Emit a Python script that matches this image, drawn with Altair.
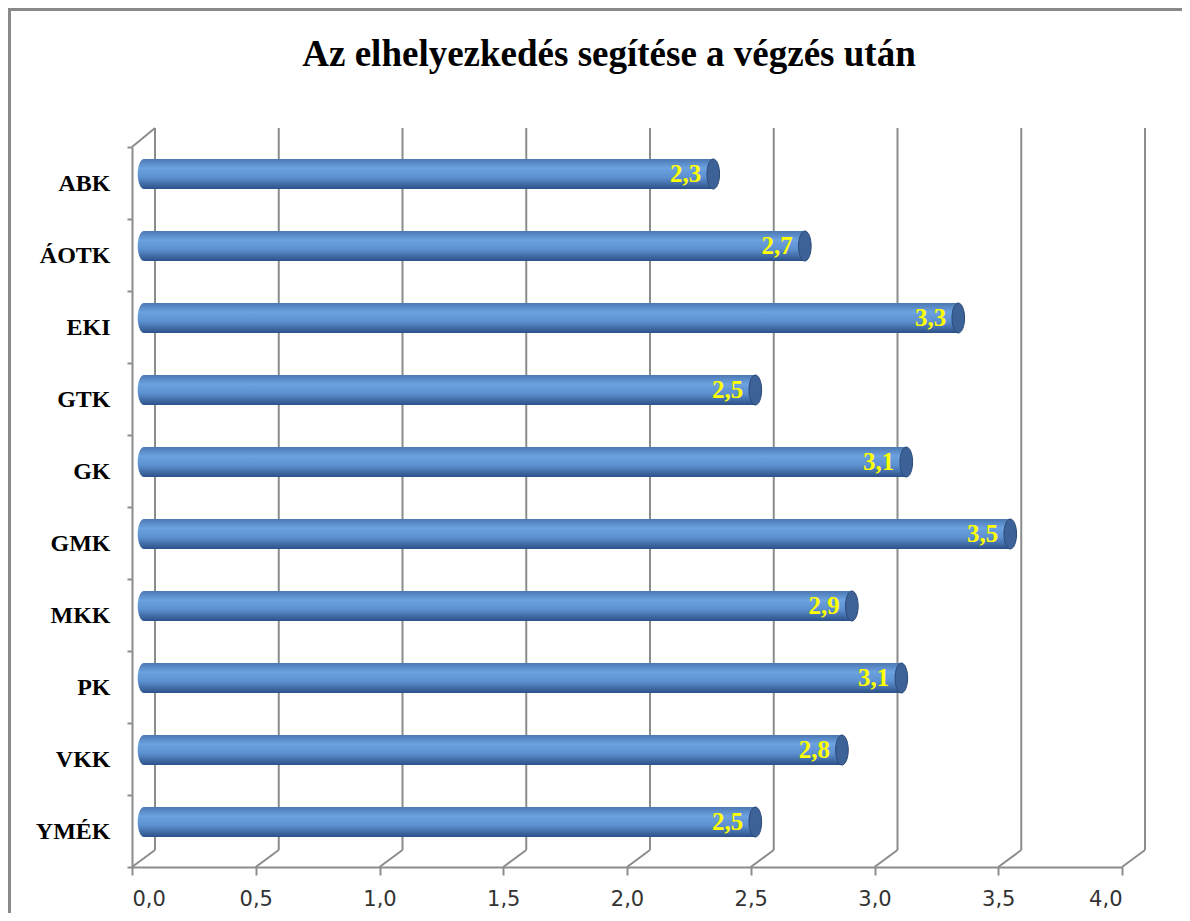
import altair as alt
import pandas as pd

TITLE = "Az elhelyezkedés segítése a végzés után"
categories = ["ABK", "ÁOTK", "EKI", "GTK", "GK", "GMK", "MKK", "PK", "VKK", "YMÉK"]
values = [2.30, 2.67, 3.29, 2.47, 3.08, 3.50, 2.86, 3.06, 2.82, 2.47]
x_ticks = [0.0, 0.5, 1.0, 1.5, 2.0, 2.5, 3.0, 3.5, 4.0]
zero_row = [0.0]

W, H = 990, 720
DEPTH_X, DEPTH_Y = 23, 17
GRID = "#8c8c8c"
BAR_H = 30
OFF_X, OFF_Y = 12, -9

df = pd.DataFrame({"k": categories, "v": values})
start_df = pd.DataFrame({"k": categories, "v": zero_row * len(categories)})
grid_df = pd.DataFrame({"v": x_ticks})
one = pd.DataFrame({"t": [TITLE]})

xenc = alt.X(
    "v:Q",
    scale=alt.Scale(domain=[0, 4], nice=False, zero=True),
    axis=alt.Axis(
        values=x_ticks,
        labelExpr="replace(format(datum.value, '.1f'), '.', ',')",
        grid=False,
        domainColor=GRID,
        domainWidth=2,
        tickColor=GRID,
        tickWidth=2,
        tickSize=8,
        labelFont="DejaVu Sans",
        labelFontSize=21,
        labelColor="#333333",
        labelPadding=13,
        title=None,
    ),
)
yenc = alt.Y(
    "k:N",
    sort=categories,
    scale=alt.Scale(paddingInner=0, paddingOuter=0),
    axis=alt.Axis(
        title=None,
        domainColor=GRID,
        domainWidth=2,
        tickColor=GRID,
        tickWidth=2,
        tickSize=5,
        tickBand="extent",
        labelFont="Liberation Serif",
        labelFontWeight="bold",
        labelFontSize=24,
        labelColor="#000000",
        labelPadding=17,
    ),
)

frame = alt.Chart(one).mark_rect(
    fillOpacity=0, stroke="#8a8a8a", strokeWidth=3
).encode(
    x=alt.value(-122.5), x2=alt.value(W + 200), y=alt.value(-137.5), y2=alt.value(H + 200)
)

title = alt.Chart(one).mark_text(
    font="Liberation Serif", fontSize=37, fontWeight="bold", color="#000000",
    align="center", baseline="middle",
).encode(text="t:N", x=alt.value(477), y=alt.value(-92))

back_grid = alt.Chart(grid_df).mark_rule(
    color=GRID, strokeWidth=2, xOffset=DEPTH_X
).encode(x=xenc, y=alt.value(-19), y2=alt.value(H - DEPTH_Y))

connectors = alt.Chart(grid_df).mark_rule(
    color=GRID, strokeWidth=2, x2Offset=DEPTH_X
).encode(x=xenc, x2="v:Q", y=alt.value(H), y2=alt.value(H - DEPTH_Y))

wall_top = alt.Chart(one).mark_rule(color=GRID, strokeWidth=2).encode(
    x=alt.value(0), x2=alt.value(DEPTH_X), y=alt.value(0), y2=alt.value(-19)
)

def grad():
    return alt.Gradient(
        gradient="linear",
        stops=[
            alt.GradientStop(color="#4a78b4", offset=0),
            alt.GradientStop(color="#6ca2df", offset=0.3),
            alt.GradientStop(color="#5c8fcf", offset=0.62),
            alt.GradientStop(color="#2c5187", offset=1),
        ],
        x1=0, x2=0, y1=0, y2=1,
    )

ELLIPSE = "M0,-1 A0.42,1 0 1,1 0,1 A0.42,1 0 1,1 0,-1 Z"

start_caps = alt.Chart(start_df).mark_point(
    shape=ELLIPSE, size=BAR_H * BAR_H, filled=True, fill=grad(), strokeWidth=0,
    opacity=1, xOffset=OFF_X, yOffset=OFF_Y,
).encode(x=xenc, y=yenc)

bars = alt.Chart(df).mark_bar(
    size=BAR_H, xOffset=OFF_X, x2Offset=OFF_X, yOffset=OFF_Y, color=grad(),
).encode(x=xenc, y=yenc)

caps = alt.Chart(df).mark_point(
    shape=ELLIPSE, size=BAR_H * BAR_H, filled=True, fill="#3d6298", stroke="#2b4a78",
    strokeWidth=1, opacity=1, xOffset=OFF_X, yOffset=OFF_Y,
).encode(x=xenc, y=yenc)

labels = alt.Chart(df).transform_calculate(
    lab="replace(format(datum.v, '.1f'), '.', ',')"
).mark_text(
    align="right", baseline="middle", xOffset=0, yOffset=OFF_Y,
    font="Liberation Serif", fontWeight="bold", fontSize=25, color="#ffff00",
).encode(x=xenc, y=yenc, text="lab:N")

chart = alt.layer(
    frame, title, back_grid, connectors, wall_top, start_caps, bars, caps, labels
).properties(
    width=W, height=H,
    background="#ffffff",
    autosize=alt.AutoSizeParams(type="none"),
    padding={"left": 124, "top": 139, "right": 60, "bottom": 46},
).configure_view(stroke=None)

chart.save("out.html", embed_options={"renderer": "svg", "actions": False})
